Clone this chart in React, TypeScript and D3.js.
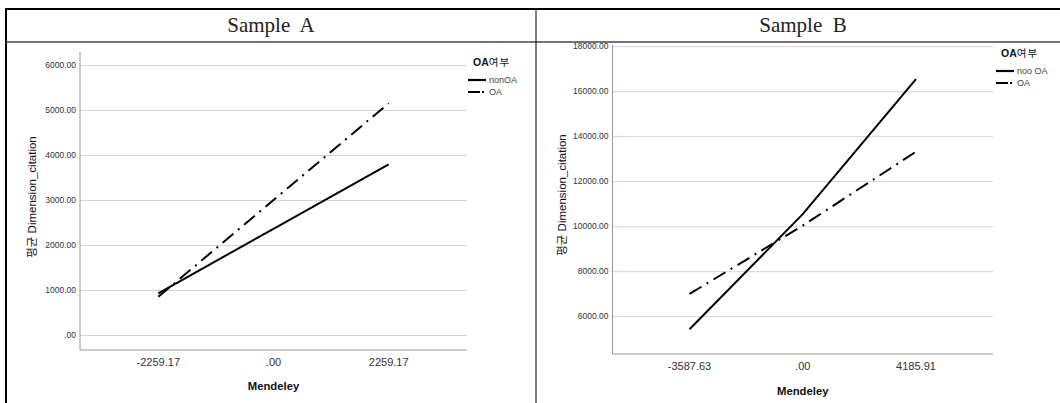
import React from "react";
import * as d3 from "d3";

const seriesNames = ["nonOA", "OA"];
const legendLabelsA = ["nonOA", "OA"];
const legendLabelsB = ["noo OA", "OA"];

const catsA = ["-2259.17", ".00", "2259.17"];
const nonOA_A = [938, 2371, 3804];
const OA_A = [860, 3010, 5160];
const yTicksA = [0, 1000, 2000, 3000, 4000, 5000, 6000];

const catsB = ["-3587.63", ".00", "4185.91"];
const nonOA_B = [5440, 10560, 16560];
const OA_B = [7010, 10050, 13333];
const yTicksB = [6000, 8000, 10000, 12000, 14000, 16000, 18000];

const fmt = (v: number) => (v === 0 ? ".00" : v.toFixed(2));

type PanelProps = {
  cats: string[];
  series: number[][];
  legendLabels: string[];
  yTicks: number[];
  yDomain: [number, number];
  x0: number; x1: number; yTop: number; yBottom: number;
  yTitleX: number; yTitleY: number;
  xTickY: number; xTitleY: number;
  legX: number; legY: number;
};

const SANS = "'Liberation Sans', Arial, 'Noto Sans CJK KR', sans-serif";
const dashes = ["none", "14,6,2,6"];

function Panel(p: PanelProps) {
  const x = d3.scalePoint<string>().domain(p.cats).range([p.x0, p.x1]).padding(0.68);
  const y = d3.scaleLinear().domain(p.yDomain).range([p.yBottom, p.yTop]);
  const line = d3
    .line<number>()
    .x((_, i) => x(p.cats[i]) as number)
    .y((d) => y(d));
  const xMid = (p.x0 + p.x1) / 2;
  return (
    <g>
      {p.yTicks.map((t) => (
        <g key={t}>
          <line x1={p.x0} x2={p.x1} y1={y(t)} y2={y(t)} stroke="#d4d4d4" strokeWidth={1} />
          <text x={p.x0 - 4} y={y(t)} dy="0.32em" textAnchor="end" fontFamily={SANS} fontSize={8.5} fill="#333">
            {fmt(t)}
          </text>
        </g>
      ))}
      <line x1={p.x0} x2={p.x0} y1={p.yTop} y2={p.yBottom} stroke="#9a9a9a" strokeWidth={1} />
      <line x1={p.x0} x2={p.x1} y1={p.yBottom} y2={p.yBottom} stroke="#9a9a9a" strokeWidth={1} />
      {p.cats.map((c) => (
        <text key={c} x={x(c)} y={p.xTickY} textAnchor="middle" dy="0.35em" fontFamily={SANS} fontSize={11} fill="#333">
          {c}
        </text>
      ))}
      <text x={xMid} y={p.xTitleY} textAnchor="middle" dy="0.35em" fontFamily={SANS} fontSize={11.3} fontWeight="bold" fill="#111">
        Mendeley
      </text>
      <text
        transform={`translate(${p.yTitleX},${p.yTitleY}) rotate(-90)`}
        textAnchor="middle"
        dy="0.35em"
        fontFamily={SANS}
        fontSize={11.5}
        fill="#111"
      >
        평균 Dimension_citation
      </text>
      {p.series.map((s, i) => (
        <path
          key={seriesNames[i]}
          d={line(s) as string}
          fill="none"
          stroke="#000"
          strokeWidth={2}
          strokeDasharray={dashes[i]}
        />
      ))}
      <text x={p.legX} y={p.legY} dy="0.35em" fontFamily={SANS} fontSize={10.5} fill="#111">
        <tspan fontWeight="bold">OA</tspan>
        <tspan letterSpacing={1}>여부</tspan>
      </text>
      {p.legendLabels.map((l, i) => (
        <g key={l}>
          <line
            x1={p.legX - 5}
            x2={p.legX + 13}
            y1={p.legY + 18 + i * 12}
            y2={p.legY + 18 + i * 12}
            stroke="#000"
            strokeWidth={2.2}
            strokeDasharray={i === 0 ? "none" : "12,2,2,4"}
          />
          <text x={p.legX + 16} y={p.legY + 18 + i * 12} dy="0.35em" fontFamily={SANS} fontSize={9} fill="#444">
            {l}
          </text>
        </g>
      ))}
    </g>
  );
}

export default function App() {
  return (
    <svg
      width={1060}
      height={403}
      style={{ position: "absolute", left: 0, top: 0, background: "#fff" }}
    >
      <rect x={0} y={0} width={1060} height={403} fill="#fff" />
      <line x1={5} x2={1060} y1={9} y2={9} stroke="#000" strokeWidth={2} />
      <line x1={6} x2={6} y1={8} y2={403} stroke="#000" strokeWidth={2} />
      <line x1={6} x2={1060} y1={42} y2={42} stroke="#444" strokeWidth={1.5} />
      <line x1={536} x2={536} y1={9} y2={403} stroke="#000" strokeWidth={1} />
      <text x={271} y={25} dy="0.35em" textAnchor="middle" fontFamily="'Liberation Serif', 'DejaVu Serif', serif" fontSize={21} fill="#222" style={{ whiteSpace: "pre" }}>
        {"Sample  A"}
      </text>
      <text x={803} y={25} dy="0.35em" textAnchor="middle" fontFamily="'Liberation Serif', 'DejaVu Serif', serif" fontSize={21} fill="#222" style={{ whiteSpace: "pre" }}>
        {"Sample  B"}
      </text>
      <Panel
        cats={catsA}
        series={[nonOA_A, OA_A]}
        legendLabels={legendLabelsA}
        yTicks={yTicksA}
        yDomain={[-322, 6300]}
        x0={80}
        x1={467}
        yTop={52}
        yBottom={350}
        yTitleX={32}
        yTitleY={197}
        xTickY={362}
        xTitleY={386}
        legX={473}
        legY={62}
      />
      <Panel
        cats={catsB}
        series={[nonOA_B, OA_B]}
        legendLabels={legendLabelsB}
        yTicks={yTicksB}
        yDomain={[4342, 18076]}
        x0={612.5}
        x1={993}
        yTop={45}
        yBottom={354}
        yTitleX={562}
        yTitleY={195}
        xTickY={366.5}
        xTitleY={391.5}
        legX={1001}
        legY={53}
      />
    </svg>
  );
}
